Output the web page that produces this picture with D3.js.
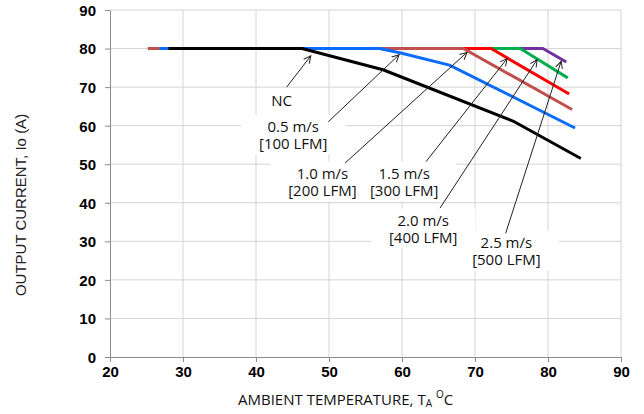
<!DOCTYPE html>
<html>
<head>
<meta charset="utf-8">
<script src="https://cdn.jsdelivr.net/npm/d3@7"></script>
<style>
  body { margin: 0; background: #fff; }
  svg { display: block; }
  .tick text { font-family: "Liberation Sans", Arial, sans-serif; font-weight: bold; font-size: 15px; fill: #000; }
  .note { font-family: "Open Sans", sans-serif; font-size: 15px; fill: #111; }
</style>
</head>
<body>
<svg id="chart"></svg>
<script>
// derating curves, [ambient temp (C), output current (A)]
const ncCurve     = [[28, 80], [46.3, 80], [57.4, 74.5], [75.2, 61.2], [84.5, 51.5]];
const air05Curve  = [[26.8, 80], [56.9, 80], [59.7, 78.9], [66.5, 75.7], [83.7, 59.4]];
const air10Curve  = [[25.2, 80], [68.4, 80], [83.3, 64.2]];
const air15Curve  = [[25.2, 80], [72.2, 80], [82.9, 68.2]];
const air20Curve  = [[25.2, 80], [76.2, 80], [82.7, 72.4]];
const air25Curve  = [[25.2, 80], [79.3, 80], [82.5, 76.5]];

const xTicks = [20, 30, 40, 50, 60, 70, 80, 90];
const yTicks = [0, 10, 20, 30, 40, 50, 60, 70, 80, 90];

// labels: text lines, label position (first baseline), arrow tail, arrow tip
const noteLines = [["NC"], ["0.5 m/s", "[100 LFM]"], ["1.0 m/s", "[200 LFM]"],
                   ["1.5 m/s", "[300 LFM]"], ["2.0 m/s", "[400 LFM]"], ["2.5 m/s", "[500 LFM]"]];
const notePos  = [[43.5, 65.1], [45.1, 58.4], [49.1, 46.2], [60.3, 46.2], [62.9, 34.1], [74.3, 28.3]];
const arrowFrom = [[44.2, 70.0], [49.9, 61.0], [52.2, 50.3], [63.3, 50.7], [65.2, 38.6], [74.2, 32.1]];
const arrowTo   = [[47.5, 78.1], [59.6, 78.4], [68.9, 79.0], [74.4, 77.4], [78.5, 77.1], [81.8, 76.7]];

const width = 644, height = 414;

const svg = d3.select("#chart")
    .attr("width", width)
    .attr("height", height);

const x = d3.scaleLinear().domain([20, 90]).range([110, 621]);
const y = d3.scaleLinear().domain([0, 90]).range([357, 10]);

// grid
svg.append("g")
    .selectAll("line")
    .data(yTicks.slice(1))
    .join("line")
    .attr("x1", x(20)).attr("x2", x(90))
    .attr("y1", d => y(d)).attr("y2", d => y(d))
    .attr("stroke", "#d4d4d4");

svg.append("g")
    .selectAll("line")
    .data(xTicks.slice(1))
    .join("line")
    .attr("x1", d => x(d)).attr("x2", d => x(d))
    .attr("y1", y(0)).attr("y2", y(90))
    .attr("stroke", "#d4d4d4");

// axes
const xAxis = svg.append("g")
    .attr("transform", `translate(0, ${y(0)})`)
    .call(d3.axisBottom(x).tickValues(xTicks).tickSize(5).tickSizeOuter(0).tickPadding(4));

const yAxis = svg.append("g")
    .attr("transform", `translate(${x(20)}, 0)`)
    .call(d3.axisLeft(y).tickValues(yTicks).tickSize(5).tickSizeOuter(0).tickPadding(9));

svg.selectAll(".domain, .tick line").attr("stroke", "#8c8c8c");
yAxis.selectAll("text").attr("dy", "0.36em");

// curves, bottom to top
const line = d3.line().x(d => x(d[0])).y(d => y(d[1]));
const curves = [
    [air25Curve, "#7030a0"],
    [air20Curve, "#00b050"],
    [air15Curve, "#ff0000"],
    [air10Curve, "#c0504d"],
    [air05Curve, "#0a6cff"],
    [ncCurve, "#000000"]
];

svg.append("g")
    .selectAll("path")
    .data(curves)
    .join("path")
    .attr("d", d => line(d[0]))
    .attr("fill", "none")
    .attr("stroke", d => d[1])
    .attr("stroke-width", 3)
    .attr("stroke-linejoin", "round");

// annotation labels; white boxes go under all of the texts
const boxLayer = svg.append("g");
const textLayer = svg.append("g");
noteLines.forEach((lines, i) => {
    const t = textLayer.append("text")
        .attr("class", "note")
        .attr("text-anchor", "middle")
        .attr("x", x(notePos[i][0]))
        .attr("y", y(notePos[i][1]));
    lines.forEach((s, j) => {
        t.append("tspan")
            .attr("x", x(notePos[i][0]))
            .attr("dy", j === 0 ? 0 : 17.5)
            .text(s);
    });
    if (lines.length > 1) {
        const b = t.node().getBBox();
        boxLayer.append("rect")
            .attr("fill", "#fff")
            .attr("x", b.x - 18).attr("y", b.y - 1)
            .attr("width", b.width + 36).attr("height", b.height + 2);
    }
});

// arrows
svg.append("defs").append("marker")
    .attr("id", "arrow")
    .attr("markerUnits", "userSpaceOnUse")
    .attr("viewBox", "-8 -5 10 10")
    .attr("refX", 0).attr("refY", 0)
    .attr("markerWidth", 10).attr("markerHeight", 10)
    .attr("orient", "auto")
    .append("path")
    .attr("d", "M-7,-3.5L0,0L-7,3.5")
    .attr("fill", "none")
    .attr("stroke", "#222")
    .attr("stroke-width", 1);

svg.append("g")
    .selectAll("line")
    .data(arrowFrom)
    .join("line")
    .attr("x1", d => x(d[0])).attr("y1", d => y(d[1]))
    .attr("x2", (d, i) => x(arrowTo[i][0])).attr("y2", (d, i) => y(arrowTo[i][1]))
    .attr("stroke", "#222")
    .attr("stroke-width", 1)
    .attr("marker-end", "url(#arrow)");

// axis titles
const xTitle = svg.append("text")
    .attr("class", "note")
    .attr("x", 238)
    .attr("y", 405)
    .attr("fill", "#111");
xTitle.append("tspan").text("AMBIENT TEMPERATURE, T");
xTitle.append("tspan").attr("font-size", "10px").attr("dy", 2).text("A");
xTitle.append("tspan").attr("font-size", "10px").attr("dy", -9).attr("dx", 4).text("O");
xTitle.append("tspan").attr("dy", 7).text("C");

svg.append("text")
    .attr("transform", `translate(26, 205) rotate(-90)`)
    .attr("text-anchor", "middle")
    .style("font-family", "'Liberation Sans', Arial, sans-serif")
    .style("font-size", "15px")
    .attr("fill", "#222")
    .text("OUTPUT CURRENT, Io  (A)");
</script>
</body>
</html>
